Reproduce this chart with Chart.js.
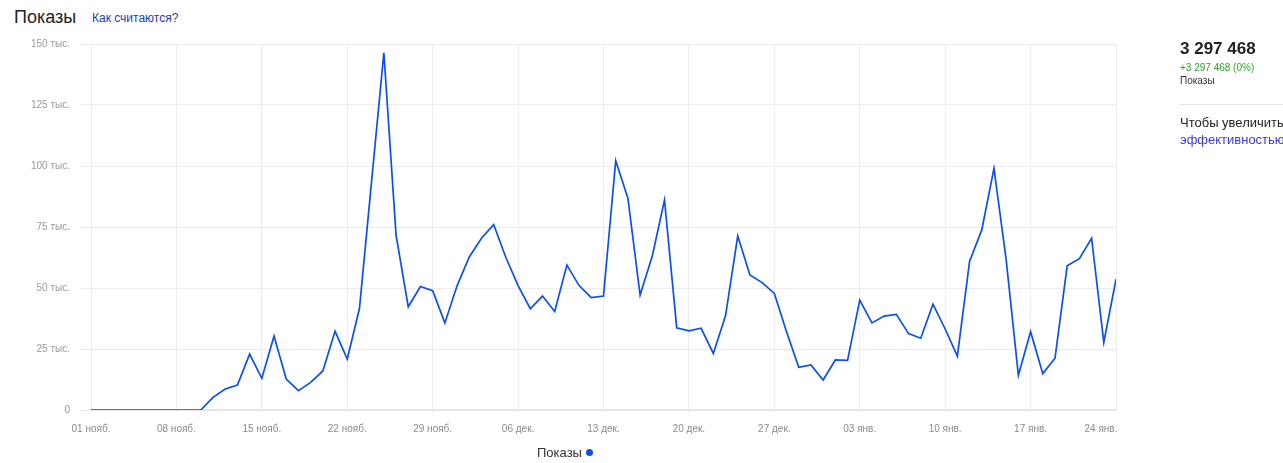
<!DOCTYPE html>
<html>
<head>
<meta charset="utf-8">
<script src="https://cdn.jsdelivr.net/npm/chart.js@4"></script>
<style>
  html, body { margin: 0; padding: 0; background: #fff; overflow: hidden; }
  body { width: 1283px; height: 463px; position: relative; font-family: Arial, "Liberation Sans", sans-serif; }
  #chartBox { position: absolute; left: 0; top: 0; width: 1283px; height: 463px; }
  .title { position: absolute; left: 14px; top: 7px; font-size: 18px; color: #222; }
  .how { position: absolute; left: 92px; top: 11px; font-size: 12px; color: #1c3aa9; }
  .legend { position: absolute; left: 537px; top: 445px; font-size: 13px; color: #333; }
  .legend .dot { display: inline-block; width: 7px; height: 7px; border-radius: 50%; background: #0b4ff0; margin-left: 4px; vertical-align: 1px; }
  .total { position: absolute; left: 1180px; top: 39px; font-size: 17px; font-weight: bold; color: #222; white-space: nowrap; }
  .delta { position: absolute; left: 1180px; top: 62px; font-size: 10px; color: #2ca52c; white-space: nowrap; }
  .sub { position: absolute; left: 1180px; top: 75px; font-size: 10px; color: #333; }
  .sep { position: absolute; left: 1179px; top: 104px; width: 110px; height: 1px; background: #e6e6e6; }
  .tip { position: absolute; left: 1180px; top: 114px; font-size: 13px; line-height: 17px; color: #222; white-space: nowrap; }
  .tip span { color: #3b3bd0; }
</style>
</head>
<body>
<div class="title">Показы</div>
<div class="how">Как считаются?</div>
<div id="chartBox"><canvas id="c" width="1283" height="463"></canvas></div>
<div class="legend">Показы<span class="dot"></span></div>
<div class="total">3 297 468</div>
<div class="delta">+3 297 468 (0%)</div>
<div class="sub">Показы</div>
<div class="sep"></div>
<div class="tip">Чтобы увеличить<br><span>эффективностью</span></div>

<script>
// daily impressions, 01 нояб. .. 24 янв. (85 days)
var dailyShows = [
  0, 0, 0, 0, 0, 0, 0, 0, 0, 0,
  5200, 8600, 10200, 22900, 13000, 30300, 12700, 7900, 11300, 16000,
  32300, 20900, 41600, 94000, 146400, 71700, 42300, 50600, 48900, 35700,
  50900, 62700, 70400, 76000, 62500, 51000, 41500, 46700, 40400, 59400,
  51000, 46100, 46700, 102200, 86800, 47100, 63100, 86100, 33700, 32400,
  33500, 23200, 38600, 71300, 55300, 52200, 47800, 32100, 17500, 18500,
  12300, 20500, 20300, 45000, 35700, 38500, 39200, 31300, 29400, 43400,
  33200, 22100, 60900, 73800, 99000, 61500, 14200, 32100, 14900, 21200,
  59100, 62000, 70400, 27700, 53600
];
// one label per week
var xTickLabels = ["01 нояб.", "08 нояб.", "15 нояб.", "22 нояб.", "29 нояб.", "06 дек.", "13 дек.",
  "20 дек.", "27 дек.", "03 янв.", "10 янв.", "17 янв.", "24 янв."];
var yTickLabels = ["0", "25 тыс.", "50 тыс.", "75 тыс.", "100 тыс.", "125 тыс.", "150 тыс."];

var LINE_COLOR = "#0b4ff0";
var GRID_COLOR = "#ececec";

var points = [];
for (var i = 0; i < dailyShows.length; i++) {
  points.push({x: i, y: dailyShows[i]});
}

var chart = new Chart(document.getElementById("c"), {
  type: "line",
  data: {
    datasets: [{
      label: "Показы",
      data: points,
      borderColor: LINE_COLOR,
      borderWidth: 1.7,
      pointRadius: 0,
      tension: 0,
      fill: false
    }]
  },
  options: {
    responsive: false,
    animation: false,
    devicePixelRatio: 1,
    layout: { padding: { top: 44, left: 0, right: 167, bottom: 23 } },
    plugins: { legend: { display: false }, tooltip: { enabled: false } },
    scales: {
      x: {
        type: "linear",
        min: 0,
        max: 84,
        afterFit: function(scale) { scale.height = 30; },
        ticks: {
          stepSize: 7,
          maxRotation: 0,
          autoSkip: false,
          padding: 13,
          color: "#8a8a8a",
          font: { family: "Arial, 'Liberation Sans', sans-serif", size: 10 },
          callback: function(v) {
            var idx = Math.round(v / 7);
            // the last label hugs the right edge, like the original
            if (idx === xTickLabels.length - 1) return xTickLabels[idx] + "\u2003\u2003\u2003";
            return xTickLabels[idx];
          }
        },
        grid: { color: GRID_COLOR, lineWidth: 1, drawTicks: false },
        border: { color: "#e6e6e6", width: 2 }
      },
      y: {
        min: 0,
        max: 150000,
        afterFit: function(scale) { scale.width = 91; },
        ticks: {
          stepSize: 25000,
          padding: 10,
          color: "#9a9a9a",
          font: { family: "Arial, 'Liberation Sans', sans-serif", size: 10 },
          callback: function(v, index) { return yTickLabels[index]; }
        },
        grid: { color: GRID_COLOR, lineWidth: 1, tickLength: 11 },
        border: { display: false }
      }
    }
  }
});
</script>
</body>
</html>
